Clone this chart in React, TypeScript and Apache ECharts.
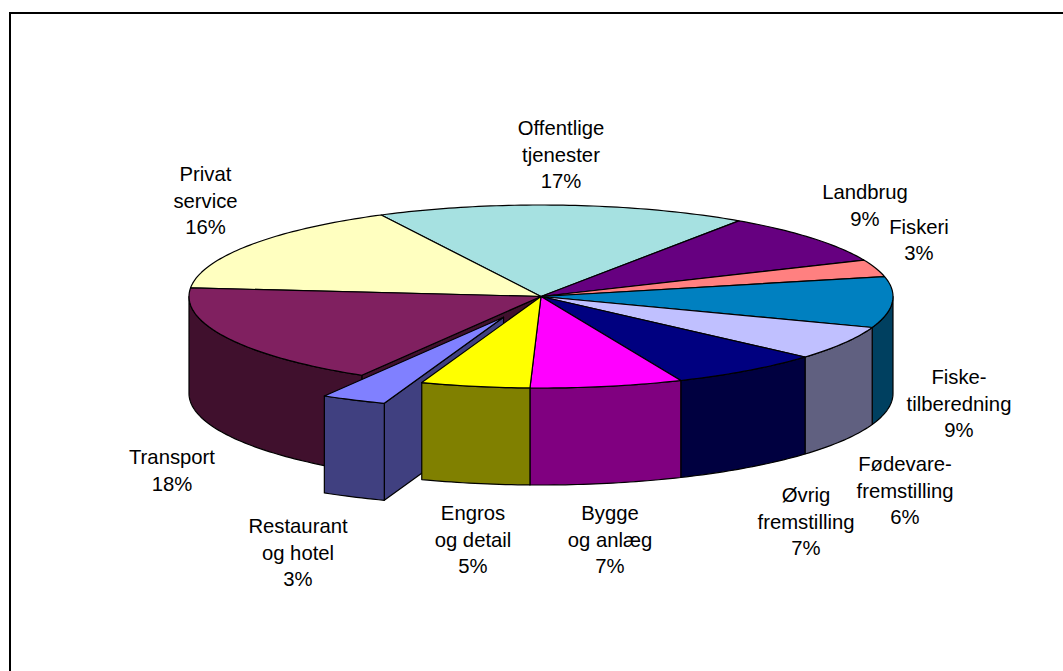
import React, { useEffect, useRef } from "react";
import * as echarts from "echarts";

const categories = [
  "Offentlige\ntjenester",
  "Landbrug",
  "Fiskeri",
  "Fiske-\ntilberedning",
  "Fødevare-\nfremstilling",
  "Øvrig\nfremstilling",
  "Bygge\nog anlæg",
  "Engros\nog detail",
  "Restaurant\nog hotel",
  "Transport",
  "Privat\nservice",
];
const shares = [17, 9, 3, 9, 6, 7, 7, 5, 3, 18, 16];

const topColors = ["#A6E1E1", "#660080", "#FF8080", "#0080C0", "#C0C0FF", "#000080", "#FF00FF", "#FFFF00", "#8080FF", "#802060", "#FFFFC0"];
const wallColors = ["#537070", "#330040", "#804040", "#004060", "#606080", "#000040", "#800080", "#808000", "#404080", "#40102D", "#808060"];
const explode = [0, 0, 0, 0, 0, 0, 0, 0, 0.25, 0, 0];
const labelCenters = [
  [561, 154.5], [865, 205.5], [919, 240], [959, 403.5], [905, 490.5], [806, 521.5],
  [610, 539.5], [473, 539.5], [298, 552.5], [172, 470.5], [205.5, 200.5],
];

const CX = 541, CY = 296.5, RX = 352, RY = 91.5, DEPTH = 97, START_DEG = -27;
const total = shares.reduce((a, b) => a + b, 0);
const rad = (d: number) => (d * Math.PI) / 180;
const startOf = (i: number) => START_DEG + (shares.slice(0, i).reduce((a, b) => a + b, 0) / total) * 360;

const rim = (deg: number, ox: number, oy: number): number[] => [
  CX + ox + RX * Math.sin(rad(deg)),
  CY + oy - RY * Math.cos(rad(deg)),
];

const arc = (a: number, b: number, ox: number, oy: number) => {
  const pts: number[][] = [];
  const n = Math.max(2, Math.ceil(b - a));
  for (let k = 0; k <= n; k++) pts.push(rim(a + ((b - a) * k) / n, ox, oy));
  return pts;
};

const midDeg = (i: number) => startOf(i) + (shares[i] / total) * 180;
const paintOrder = shares
  .map((_, i) => i)
  .sort((p, q) => Math.cos(rad(midDeg(q))) - Math.cos(rad(midDeg(p))));

const outline = { stroke: "#000000", lineWidth: 1.2, lineJoin: "round" };

function renderSlice(params: any, api: any) {
  const i = params.dataIndex;
  const a = startOf(i);
  const b = a + (api.value(0) / total) * 360;
  const m = rad((a + b) / 2);
  const ox = explode[i] * RX * Math.sin(m);
  const oy = -explode[i] * RY * Math.cos(m);
  const z = paintOrder.indexOf(i) * 10 + 1;
  const children: any[] = [];
  const tip = [CX + ox, CY + oy];
  const n = shares.length;
  const startOpen = explode[i] > 0 || explode[(i + n - 1) % n] > 0;
  const endOpen = explode[i] > 0 || explode[(i + 1) % n] > 0;

  const face = (deg: number) => {
    const r = rim(deg, ox, oy);
    return {
      type: "polygon",
      z2: z,
      shape: { points: [tip, r, [r[0], r[1] + DEPTH], [tip[0], tip[1] + DEPTH]] },
      style: { fill: wallColors[i], ...outline },
    };
  };
  if (startOpen && Math.sin(rad(a)) < 0) children.push(face(a));
  if (endOpen && Math.sin(rad(b)) > 0) children.push(face(b));

  // outer wall: only the part of the rim turned towards the viewer
  const wa = Math.max(a, 90);
  const wb = Math.min(b, 270);
  if (wb > wa) {
    const upper = arc(wa, wb, ox, oy);
    const lower = upper.map((p) => [p[0], p[1] + DEPTH]).reverse();
    children.push({
      type: "polygon",
      z2: z + 1,
      shape: { points: [...upper, ...lower] },
      style: { fill: wallColors[i], ...outline },
    });
  }
  children.push({
    type: "polygon",
    z2: z + 2,
    shape: { points: [tip, ...arc(a, b, ox, oy)] },
    style: { fill: topColors[i], ...outline },
  });
  children.push({
    type: "text",
    z2: 500,
    style: {
      x: labelCenters[i][0],
      y: labelCenters[i][1],
      text: `${categories[i]}\n${api.value(0)}%`,
      align: "center",
      verticalAlign: "middle",
      fill: "#000000",
      font: '20.3px "Liberation Sans", Arial, sans-serif',
      lineHeight: 26.7,
    },
  });
  return { type: "group", children };
}

export default function App() {
  const ref = useRef<HTMLDivElement>(null);
  useEffect(() => {
    document.body.style.margin = "0";
    const chart = echarts.init(ref.current!, undefined, { renderer: "svg" });
    chart.setOption({
      animation: false,
      backgroundColor: "#ffffff",
      tooltip: { show: false },
      graphic: [
        { type: "line", silent: true, shape: { x1: 9, y1: 13, x2: 1063, y2: 13 }, style: { stroke: "#000", lineWidth: 2 } },
        { type: "line", silent: true, shape: { x1: 10, y1: 12, x2: 10, y2: 671 }, style: { stroke: "#000", lineWidth: 2 } },
      ],
      series: [
        {
          type: "custom",
          coordinateSystem: "none",
          silent: true,
          renderItem: renderSlice,
          data: shares.map((v, i) => ({ name: categories[i], value: [v] })),
        },
      ],
    });
    return () => chart.dispose();
  }, []);
  return <div ref={ref} style={{ position: "fixed", left: 0, top: 0, width: 1063, height: 671 }} />;
}
